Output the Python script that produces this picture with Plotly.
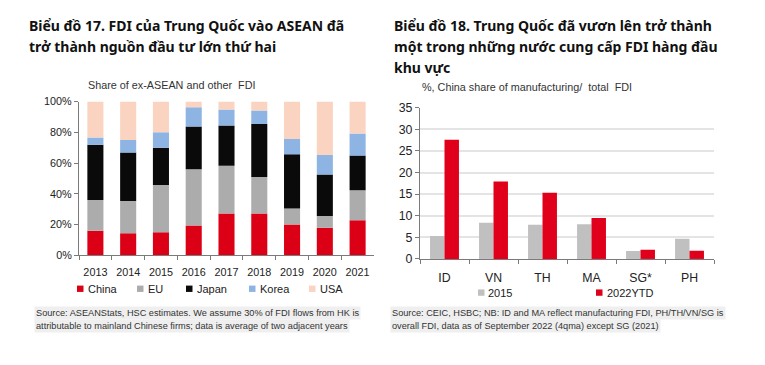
import plotly.graph_objects as go

W, H = 765, 365

# ---- Left chart data (Biểu đồ 17) ----
years = ["2013", "2014", "2015", "2016", "2017", "2018", "2019", "2020", "2021"]
china = [16.0, 14.4, 15.0, 19.4, 27.3, 27.3, 20.0, 17.9, 22.9]
eu = [20.0, 21.0, 30.8, 36.6, 31.0, 23.7, 10.4, 7.7, 19.4]
japan = [35.9, 31.5, 24.2, 27.8, 26.1, 34.4, 35.4, 26.9, 22.7]
korea = [4.8, 8.1, 10.0, 12.5, 10.4, 8.8, 9.8, 12.7, 14.2]
usa = [23.3, 25.0, 20.0, 3.7, 5.2, 5.8, 24.4, 34.8, 20.8]
left_ticks = [0, 20, 40, 60, 80, 100]

# ---- Right chart data (Biểu đồ 18) ----
countries = ["ID", "VN", "TH", "MA", "SG*", "PH"]
share_2015 = [5.3, 8.4, 7.9, 8.0, 1.85, 4.7]
share_2022 = [27.6, 17.9, 15.3, 9.5, 2.15, 1.9]
right_ticks = [0, 5, 10, 15, 20, 25, 30, 35]

SANS = "Liberation Sans, Arial, sans-serif"
LEFT_TICK_FONT = dict(family=SANS, size=10.8, color="#222222")
RIGHT_TICK_FONT = dict(family=SANS, size=12.3, color="#222222")
TITLE_FONT = dict(family="Noto Sans, Open Sans, sans-serif", size=14, color="#111111")
SRC_FONT = dict(family=SANS, size=9.2, color="#333333")
LEG_FONT = dict(family=SANS, size=11, color="#222222")

def px(x):
    return x / W

def py(y):
    return 1 - y / H

fig = go.Figure()

left_series = [
    ("China", china, "#dc0016"),
    ("EU", eu, "#acacac"),
    ("Japan", japan, "#0a0a0a"),
    ("Korea", korea, "#8eb4e3"),
    ("USA", usa, "#fbd3c1"),
]
for name, vals, col in left_series:
    fig.add_trace(go.Bar(
        x=years, y=vals, name=name, marker=dict(color=col, line=dict(width=0)),
        xaxis="x", yaxis="y", width=0.49, showlegend=False,
    ))

right_series = [
    ("2015", share_2015, "#c0c0c0", "a"),
    ("2022YTD", share_2022, "#e0001b", "b"),
]
for name, vals, col, grp in right_series:
    fig.add_trace(go.Bar(
        x=countries, y=vals, name=name, marker=dict(color=col, line=dict(width=0)),
        xaxis="x2", yaxis="y2", offsetgroup=grp, showlegend=False,
    ))

def axis_common(font):
    return dict(
        showline=True, linecolor="#7a7a7a", linewidth=1.2, ticks="outside",
        tickcolor="#7a7a7a", ticklen=4, tickfont=font, zeroline=False,
    )

fig.update_layout(
    width=W, height=H, autosize=False,
    margin=dict(l=0, r=0, t=0, b=0),
    paper_bgcolor="white", plot_bgcolor="white",
    barmode="relative", bargap=0.41,
    showlegend=False,
    xaxis=dict(domain=[px(79), px(374)], anchor="y", type="category", tickangle=0,
               tickson="boundaries", showgrid=False, ticklabelstandoff=7,
               **axis_common(LEFT_TICK_FONT)),
    yaxis=dict(domain=[py(258.3), py(98.3)], anchor="x", range=[0, 100],
               tickvals=left_ticks, ticktext=[f"{v}%" for v in left_ticks],
               showgrid=False, **axis_common(LEFT_TICK_FONT)),
    xaxis2=dict(domain=[px(420), px(714)], anchor="y2", type="category", tickangle=0,
                tickson="boundaries", showgrid=False, ticklabelstandoff=7,
                **axis_common(RIGHT_TICK_FONT)),
    yaxis2=dict(domain=[py(262), py(104.7)], anchor="x2", range=[0, 35],
                tickvals=right_ticks, showgrid=True, gridcolor="#e4e4e4", gridwidth=1.5,
                **axis_common(RIGHT_TICK_FONT)),
)

ann = []
shapes = []
def text(x, y, s, font, bg=None):
    d = dict(x=px(x), y=py(y), xref="paper", yref="paper", text=s, showarrow=False,
             xanchor="left", yanchor="middle", font=font, align="left")
    if bg:
        d["bgcolor"] = bg
        d["borderpad"] = 1
    ann.append(d)

def legend_item(x, y, name, color):
    shapes.append(dict(type="rect", xref="paper", yref="paper",
                       x0=px(x), x1=px(x + 6.5), y0=py(y + 3.3), y1=py(y - 3.3),
                       fillcolor=color, line=dict(width=0)))
    text(x + 8.5, y, name, LEG_FONT)

text(27, 19, "<b>Biểu đồ 17. FDI của Trung Quốc vào ASEAN đã</b>", TITLE_FONT)
text(27, 41, "<b>trở thành nguồn đầu tư lớn thứ hai</b>", TITLE_FONT)
text(392, 19, "<b>Biểu đồ 18. Trung Quốc đã vươn lên trở thành</b>", TITLE_FONT)
text(392, 41, "<b>một trong những nước cung cấp FDI hàng đầu</b>", TITLE_FONT)
text(392, 63, "<b>khu vực</b>", TITLE_FONT)

sub_font = dict(family=SANS, size=10.8, color="#333333")
text(86, 81, "Share of ex-ASEAN and other  FDI", sub_font)
text(420, 83, "%, China share of manufacturing/  total  FDI", sub_font)

# legends (left chart)
left_leg_x = [77, 137, 186, 249, 309]
for (name, _, col), lx in zip(left_series, left_leg_x):
    legend_item(lx, 293, name, col)
# legends (right chart)
right_leg_x = [478, 596]
for (name, _, col, _g), lx in zip(right_series, right_leg_x):
    legend_item(lx, 297, name, col)

text(34, 318, "Source: ASEANStats, HSC estimates. We assume 30% of FDI flows from HK is", SRC_FONT, bg="#efefef")
text(34, 332, "attributable to mainland Chinese firms; data is average of two adjacent years", SRC_FONT, bg="#efefef")
text(390, 318, "Source: CEIC, HSBC; NB: ID and MA reflect manufacturing FDI, PH/TH/VN/SG is", SRC_FONT, bg="#efefef")
text(390, 332, "overall FDI, data as of September 2022 (4qma) except SG (2021)", SRC_FONT, bg="#efefef")

fig.update_layout(annotations=ann, shapes=shapes)

fig.write_html("out.html", config={"displayModeBar": False},
               post_script="document.body.style.margin='0px';document.body.style.padding='0px';")
